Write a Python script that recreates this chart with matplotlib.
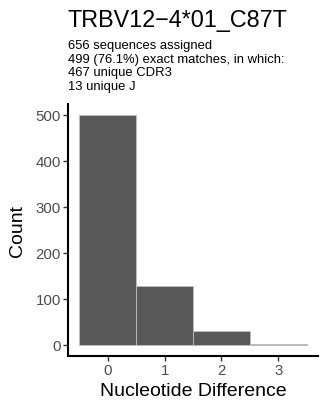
import matplotlib
matplotlib.use("Agg")
import matplotlib.pyplot as plt

title = "TRBV12\u22124*01_C87T"
subtitle_lines = ["656 sequences assigned",
                  "499 (76.1%) exact matches, in which:",
                  "467 unique CDR3",
                  "13 unique J"]
diffs = [0, 1, 2, 3]
counts = [499, 127, 29, 1]

plt.rcParams['font.family'] = ['Liberation Sans', 'DejaVu Sans']

fig = plt.figure(figsize=(3.2, 4.1), dpi=100)
W, H = 320, 410
left, right, top, bottom = 68, 318, 105, 357
ax = fig.add_axes([left / W, 1 - bottom / H, (right - left) / W, (bottom - top) / H])

ax.bar(diffs, counts, width=1.0, color="#595959", edgecolor="#BFBFBF", linewidth=0.6)

ax.set_xlim(-0.7, 3.7)
ax.set_ylim(-24.95, 523.95)
ax.set_xticks(diffs)
ax.set_yticks([0, 100, 200, 300, 400, 500])
for s in ["top", "right"]:
    ax.spines[s].set_visible(False)
for s in ["left", "bottom"]:
    ax.spines[s].set_linewidth(1.5)
    ax.spines[s].set_color("black")
ax.tick_params(axis="both", length=3.5, width=1.0, color="#333333",
               labelsize=10.8, labelcolor="#4D4D4D", pad=1.5)
ax.set_xlabel("Nucleotide Difference", fontsize=14, color="black", labelpad=4)
ax.set_ylabel("Count", fontsize=14, color="black", labelpad=7)

fig.text(left / W, 1 - 27 / H, title, fontsize=16.8, ha="left", va="baseline", color="black")
for i, line in enumerate(subtitle_lines):
    fig.text(left / W, 1 - (49.5 + 13.5 * i) / H, line, fontsize=9.4, ha="left", va="baseline", color="black")

fig.savefig("out.png", dpi=100)
